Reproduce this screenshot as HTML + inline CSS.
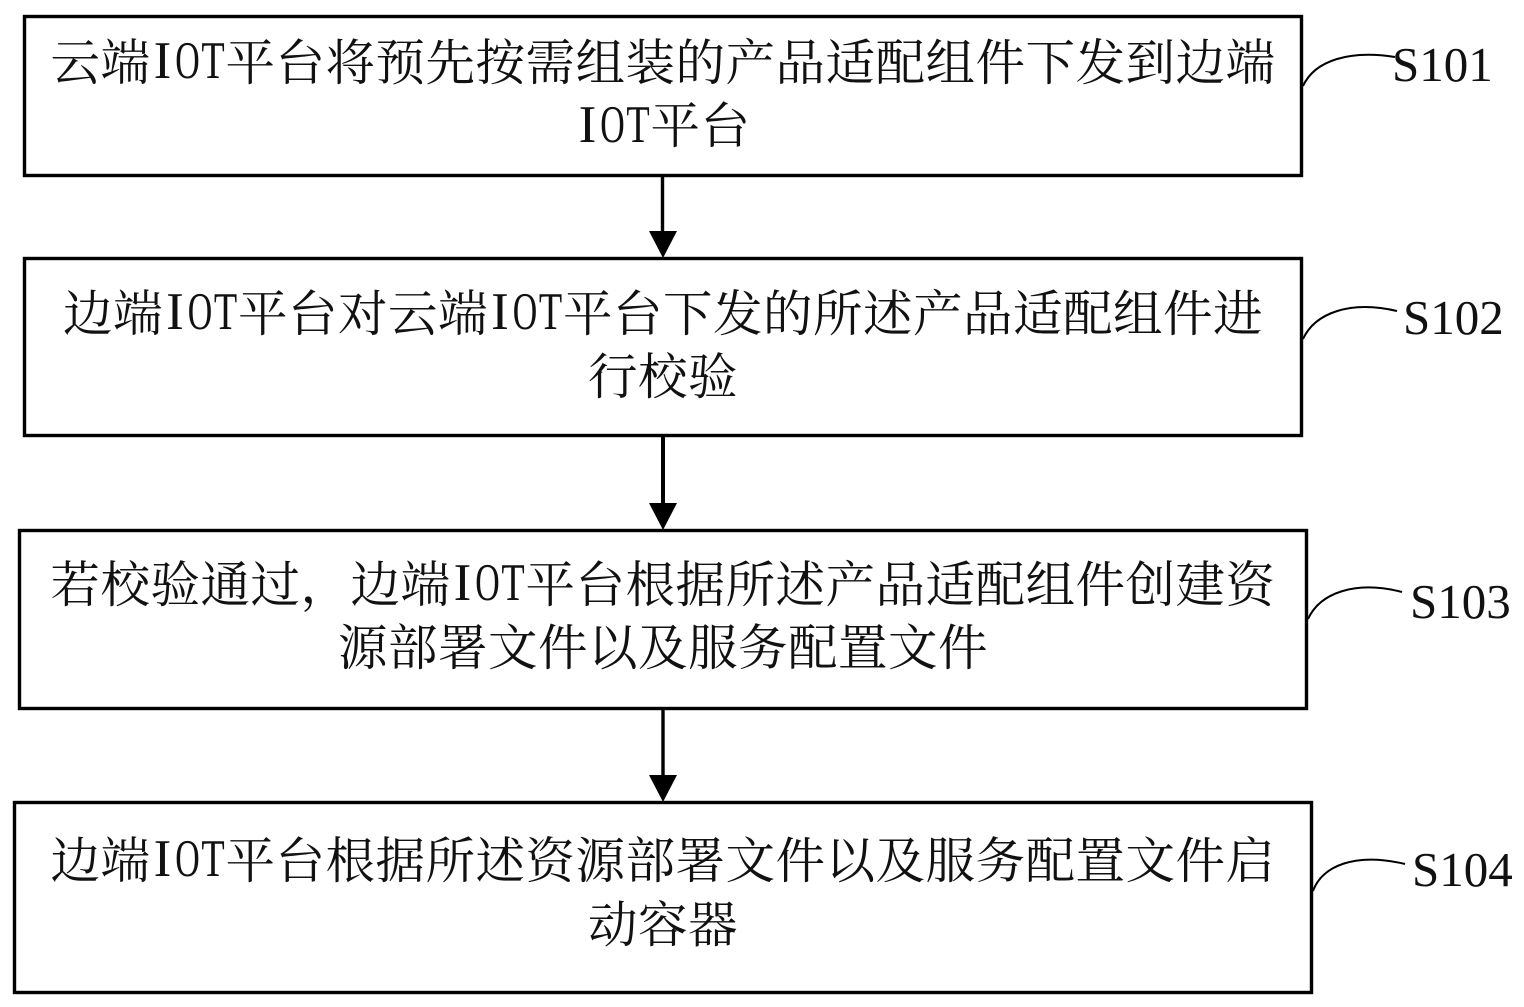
<!DOCTYPE html>
<html><head><meta charset="utf-8"><style>
html,body{margin:0;padding:0;background:#fff}
svg{display:block}
.c{font-family:"Liberation Serif","Noto Serif CJK SC",serif;font-size:49.5px;letter-spacing:.5px;fill:#111}
.r{font-family:"Liberation Serif",serif;font-size:53px;text-anchor:middle;fill:#111}
.s{font-family:"Liberation Serif",serif;font-size:49px;fill:#111}
</style></head><body>
<svg width="1524" height="1007" viewBox="0 0 1524 1007" xmlns="http://www.w3.org/2000/svg">
<rect width="1524" height="1007" fill="#fff"/>
<g fill="none" stroke="#000" stroke-width="3.4">
<rect x="24.5" y="16.5" width="1277" height="159"/>
<rect x="24.5" y="258.5" width="1277" height="177"/>
<rect x="19.5" y="530.5" width="1287" height="178"/>
<rect x="14.5" y="802.5" width="1297" height="190"/>
<path d="M1303 86C1315 60 1350 50 1395 57" stroke-width="2"/>
<path d="M1303 339C1315 313 1350 300 1397 311" stroke-width="2"/>
<path d="M1308 619C1320 593 1355 580 1402 592" stroke-width="2"/>
<path d="M1313 891C1322 866 1355 852 1405 864" stroke-width="2"/>
<path d="M662.5 176V232M663 709V776"/>
<path d="M663 436V504" stroke-width="4"/>
</g>
<g fill="#000">
<path d="M649 231H677L663 258Z"/>
<path d="M649 503H677L663 530Z"/>
<path d="M649 775H677L663 802Z"/>
</g>

<text class="c" x="50.5" y="80">云端</text>
<g transform="translate(162.5,78)"><text class="r" transform="scale(1,1)">I</text><text class="r" transform="translate(25,0) scale(.64,1)">O</text><text class="r" transform="translate(50.5,0) scale(.72,1)">T</text></g>
<text class="c" x="225.5" y="80">平台将预先按需组装的产品适配组件下发到边端</text>

<g transform="translate(587.5,142)"><text class="r" transform="scale(1,1)">I</text><text class="r" transform="translate(25,0) scale(.64,1)">O</text><text class="r" transform="translate(50.5,0) scale(.72,1)">T</text></g>
<text class="c" x="650.5" y="143">平台</text>

<text class="c" x="63" y="331">边端</text>
<g transform="translate(175,329)"><text class="r" transform="scale(1,1)">I</text><text class="r" transform="translate(25,0) scale(.64,1)">O</text><text class="r" transform="translate(50.5,0) scale(.72,1)">T</text></g>
<text class="c" x="238" y="331">平台对云端</text>
<g transform="translate(500,329)"><text class="r" transform="scale(1,1)">I</text><text class="r" transform="translate(25,0) scale(.64,1)">O</text><text class="r" transform="translate(50.5,0) scale(.72,1)">T</text></g>
<text class="c" x="563" y="331">平台下发的所述产品适配组件进</text>
<text class="c" x="588" y="394">行校验</text>

<text class="c" x="50.5" y="602">若校验通过，边端</text>
<g transform="translate(462.5,600)"><text class="r" transform="scale(1,1)">I</text><text class="r" transform="translate(25,0) scale(.64,1)">O</text><text class="r" transform="translate(50.5,0) scale(.72,1)">T</text></g>
<text class="c" x="525.5" y="602">平台根据所述产品适配组件创建资</text>
<text class="c" x="338" y="665">源部署文件以及服务配置文件</text>

<text class="c" x="50.5" y="878">边端</text>
<g transform="translate(162.5,876)"><text class="r" transform="scale(1,1)">I</text><text class="r" transform="translate(25,0) scale(.64,1)">O</text><text class="r" transform="translate(50.5,0) scale(.72,1)">T</text></g>
<text class="c" x="225.5" y="878">平台根据所述资源部署文件以及服务配置文件启</text>
<text class="c" x="588" y="942">动容器</text>

<text class="s" x="1392" y="81">S101</text>
<text class="s" x="1403" y="334">S102</text>
<text class="s" x="1410" y="618">S103</text>
<text class="s" x="1412" y="886">S104</text>
</svg>
</body></html>
